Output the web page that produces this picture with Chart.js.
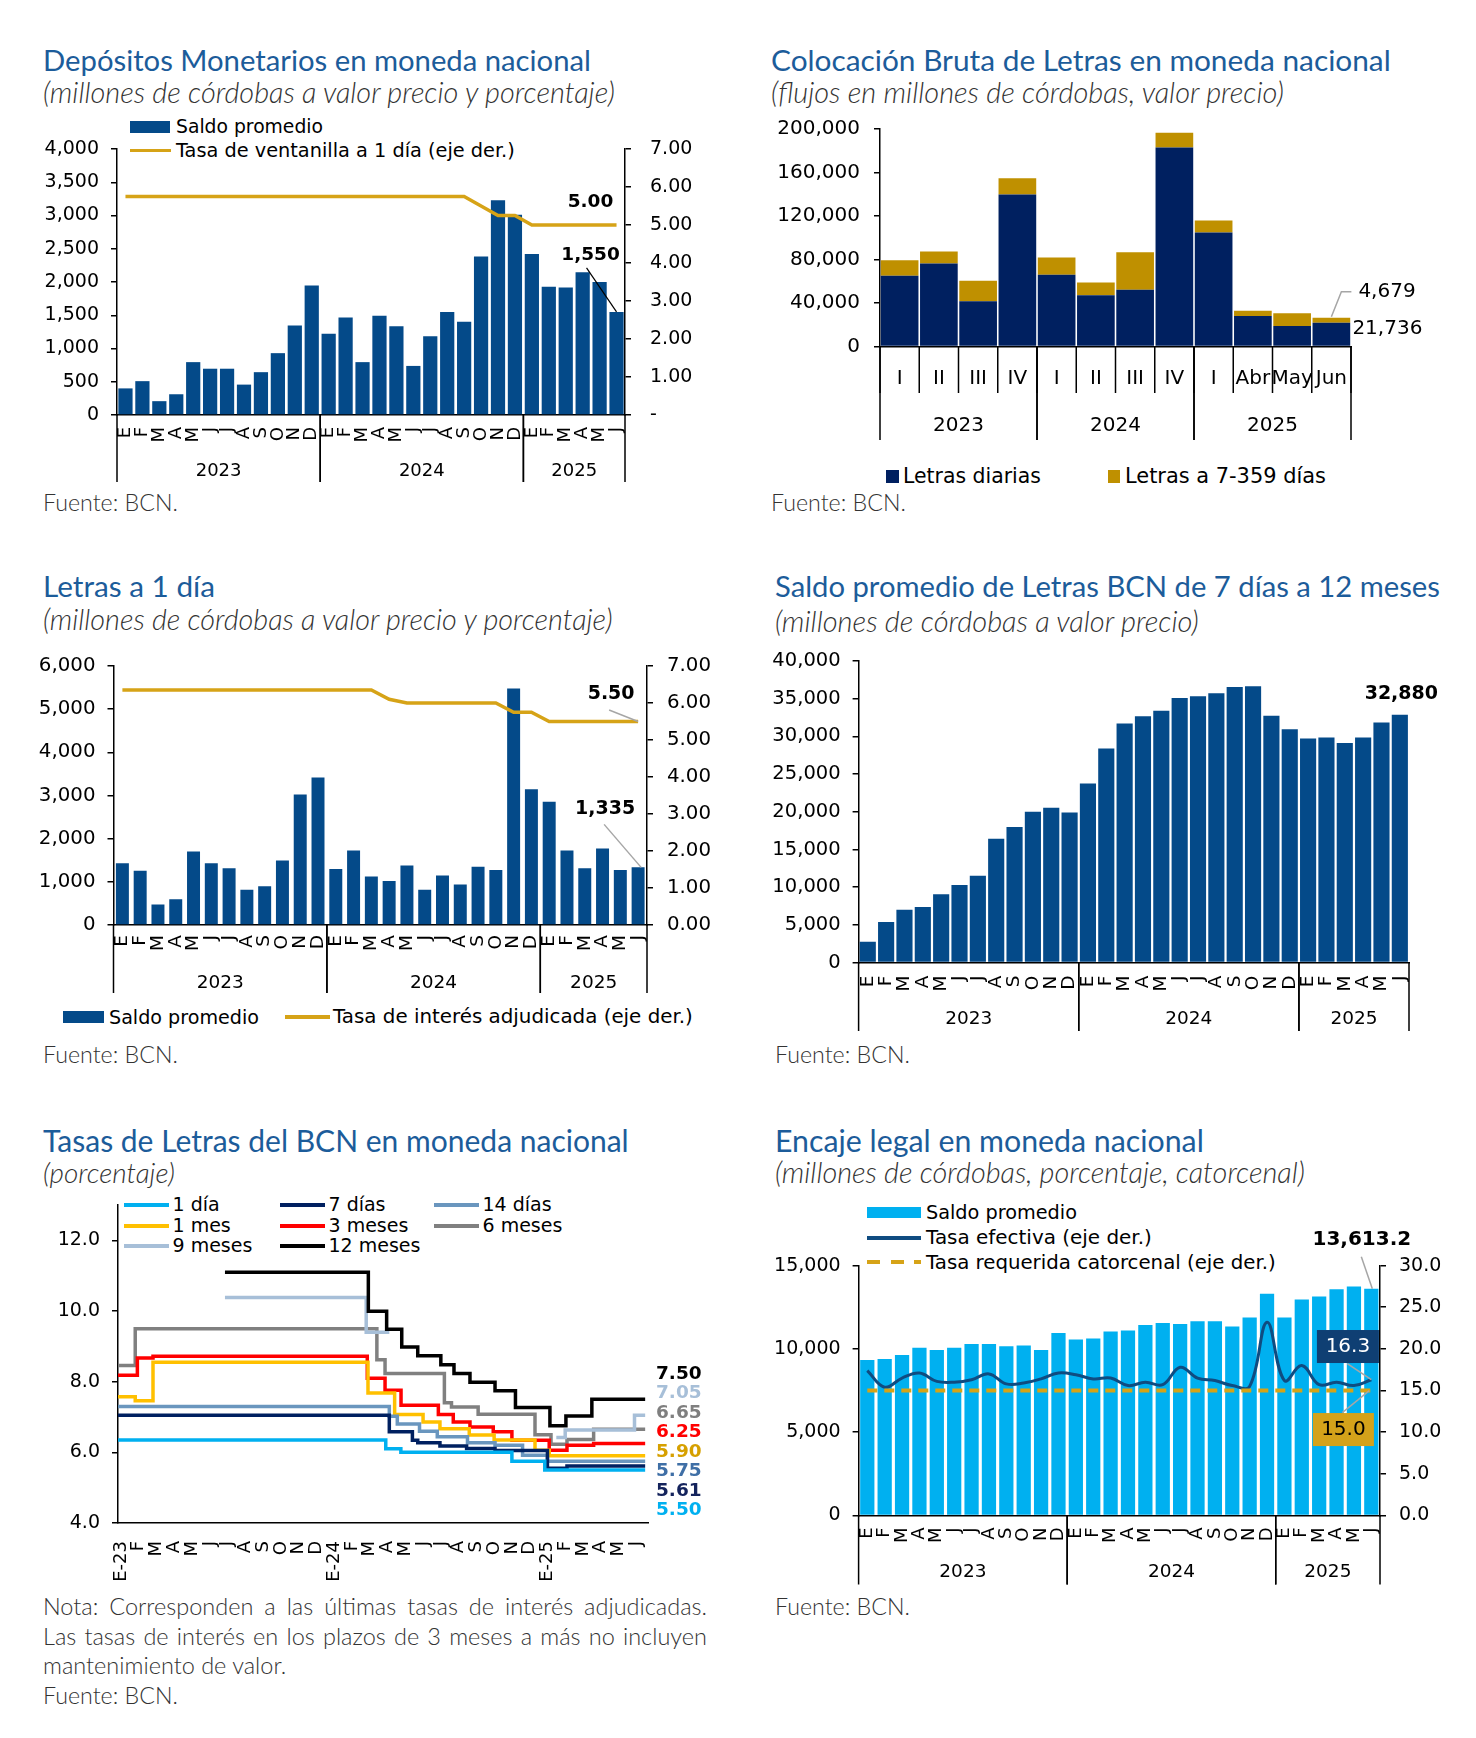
<!DOCTYPE html>
<html lang="es">
<head>
<meta charset="utf-8">
<title>Indicadores monetarios BCN</title>
<script src="https://cdn.jsdelivr.net/npm/chart.js@4.4.1/dist/chart.umd.min.js"></script>
<style>
  html, body { margin: 0; padding: 0; background: #fff; }
  #page { position: relative; width: 1476px; height: 1738px; overflow: hidden; }
  .t { position: absolute; white-space: nowrap; line-height: 1; }
  .titulo { font-family: Lato, sans-serif; color: #1c5c9a; }
  .sub { font-family: Lato, sans-serif; font-style: italic; font-weight: 300; color: #333; }
  .fuente { font-family: Lato, sans-serif; font-weight: 300; color: #333; }
  .leg { font-family: 'DejaVu Sans', sans-serif; color: #000; }
  .sw { position: absolute; }
  canvas { position: absolute; }
</style>
</head>
<body>
<div id="page"></div>
<script>
// ---------- datos ----------
const meses = ['E','F','M','A','M','J','J','A','S','O','N','D',
               'E','F','M','A','M','J','J','A','S','O','N','D',
               'E','F','M','A','M','J'];
const anios = ['2023', '2024', '2025'];
const mesesPorAnio = [12, 12, 6];

// Depositos monetarios
const depSaldo = [400, 509, 208, 312, 795, 696, 696, 457, 644, 930, 1345, 1948,
                  1221, 1465, 795, 1491, 1335, 738, 1184, 1548, 1403, 2384, 3231, 3013,
                  2421, 1927, 1917, 2145, 2000, 1550];
const depTasa = [5.75, 5.75, 5.75, 5.75, 5.75, 5.75, 5.75, 5.75, 5.75, 5.75, 5.75, 5.75,
                 5.75, 5.75, 5.75, 5.75, 5.75, 5.75, 5.75, 5.75, 5.75, 5.50, 5.25, 5.25,
                 5.00, 5.00, 5.00, 5.00, 5.00, 5.00];

// Colocacion bruta de letras
const colocPeriodos = ['I', 'II', 'III', 'IV', 'I', 'II', 'III', 'IV', 'I', 'Abr', 'May', 'Jun'];
const colocPorAnio = [4, 4, 4];
const letrasDiarias = [65000, 76400, 41700, 139800, 65900, 47100, 52200, 183100, 104800, 28000, 18800, 21736];
const letras7a359 = [14300, 10900, 18800, 15000, 15900, 11800, 34400, 13400, 11100, 4800, 11800, 4679];

// Letras a 1 dia
const l1Saldo = [1428, 1259, 473, 594, 1700, 1428, 1315, 818, 898, 1492, 3024, 3417,
                 1299, 1725, 1123, 1019, 1380, 818, 1147, 938, 1348, 1275, 5478, 3144,
                 2855, 1725, 1315, 1773, 1275, 1335];
const l1Tasa = [6.35, 6.35, 6.35, 6.35, 6.35, 6.35, 6.35, 6.35, 6.35, 6.35, 6.35, 6.35,
                6.35, 6.35, 6.35, 6.10, 6.00, 6.00, 6.00, 6.00, 6.00, 6.00, 5.75, 5.75,
                5.50, 5.50, 5.50, 5.50, 5.50, 5.50];

// Saldo de letras de 7 dias a 12 meses
const letrasSaldo = [2750, 5370, 7020, 7390, 9080, 10280, 11510, 16420, 17980, 20000, 20550, 19910,
                     23760, 28390, 31700, 32660, 33390, 35090, 35320, 35730, 36560, 36650, 32750, 30960,
                     29730, 29860, 29130, 29860, 31840, 32880];

// Tasas de letras (x = meses desde enero 2023)
const mesesTasas = ['E-23','F','M','A','M','J','J','A','S','O','N','D',
                    'E-24','F','M','A','M','J','J','A','S','O','N','D',
                    'E-25','F','M','A','M','J'];
const tasa1dia = [[-0.17, 6.35], [14.9, 6.10], [15.75, 6.00], [22.0, 5.75], [23.85, 5.50], [29.5, 5.50]];
const tasa7dias = [[-0.17, 7.05], [15.1, 6.58], [16.4, 6.34], [16.7, 6.27], [17.95, 6.18], [19.45, 6.11],
                   [21.05, 6.05], [24.0, 5.55], [25.1, 5.61], [29.5, 5.61]];
const tasa14dias = [[-0.17, 7.30], [15.1, 7.02], [15.55, 6.80], [16.8, 6.60], [17.8, 6.44], [19.5, 6.27],
                    [21.05, 6.20], [22.6, 5.92], [24.0, 5.75], [29.5, 5.75]];
const tasa1mes = [[-0.17, 7.57], [0.8, 7.46], [1.8, 8.55], [13.9, 7.68], [15.4, 7.07], [17.0, 6.86],
                  [17.95, 6.67], [19.6, 6.49], [21.0, 6.35], [23.3, 6.06], [24.1, 5.90], [29.5, 5.90]];
const tasa3meses = [[-0.17, 8.18], [0.92, 8.67], [1.8, 8.72], [13.86, 8.10], [14.86, 7.76], [15.76, 7.33],
                    [17.86, 7.07], [18.7, 6.86], [19.64, 6.72], [20.95, 6.58], [22.0, 6.34], [24.1, 6.06],
                    [25.1, 6.20], [26.6, 6.25], [29.5, 6.25]];
const tasa6meses = [[-0.17, 8.46], [0.8, 9.50], [14.4, 8.62], [14.86, 8.23], [18.2, 7.40], [18.6, 7.28],
                    [20.1, 7.08], [23.3, 6.50], [24.2, 6.23], [25.1, 6.36], [26.6, 6.65], [29.5, 6.65]];
const tasa9meses = [[5.85, 10.38], [13.8, 9.40], [15.1, 9.40], [15.2, null], [24.5, 6.42], [25.0, 6.63],
                    [28.9, 7.05], [29.5, 7.05]];
const tasa12meses = [[5.85, 11.10], [13.92, 9.99], [14.95, 9.48], [15.8, 8.98], [16.7, 8.73], [18.0, 8.48],
                     [18.74, 8.23], [19.64, 7.98], [21.05, 7.74], [22.2, 7.27], [24.14, 6.75], [25.04, 7.03],
                     [26.5, 7.50], [29.5, 7.50]];

// Encaje legal
const encajeSaldo = [9330, 9400, 9630, 10070, 9940, 10070, 10290, 10290, 10160, 10210, 9940, 10950,
                     10560, 10630, 11050, 11100, 11440, 11560, 11490, 11660, 11660, 11340, 11880, 13310,
                     11880, 12960, 13140, 13580, 13750, 13613.2];
const tasaEfectiva = [17.4, 15.4, 16.5, 17.1, 16.1, 16.0, 16.3, 17.0, 15.8, 15.9, 16.4, 17.1,
                      16.9, 16.4, 16.5, 15.6, 16.0, 15.7, 17.8, 16.5, 16.2, 15.6, 15.5, 23.2,
                      16.2, 18.0, 15.7, 16.0, 15.6, 16.3];
const tasaRequerida = [15.0, 15.0, 15.0, 15.0, 15.0, 15.0, 15.0, 15.0, 15.0, 15.0, 15.0, 15.0,
                       15.0, 15.0, 15.0, 15.0, 15.0, 15.0, 15.0, 15.0, 15.0, 15.0, 15.0, 15.0,
                       15.0, 15.0, 15.0, 15.0, 15.0, 15.0];

// ---------- estilos ----------
const AZUL = '#044a89';
const ORO = '#d6a317';
const NAVY = '#002060';
const ORO2 = '#bf9000';
const CIAN = '#00b0f0';
const GRIS = '#a6a6a6';
const FAM = "'DejaVu Sans', sans-serif";

Chart.defaults.font.family = FAM;
Chart.defaults.color = '#000';
Chart.defaults.animation = false;
Chart.defaults.responsive = false;
Chart.defaults.plugins.legend.display = false;
Chart.defaults.plugins.tooltip.enabled = false;

const page = document.getElementById('page');
const miles = v => v.toLocaleString('en-US');

// ---------- texto html ----------
function texto(str, cls, x, base, size, w) {
  const d = document.createElement('div');
  d.className = 't ' + cls;
  d.textContent = str;
  d.style.left = x + 'px';
  d.style.fontSize = size + 'px';
  page.appendChild(d);
  if (w) {
    size = size * w / d.getBoundingClientRect().width;
    d.style.fontSize = size + 'px';
  }
  d.style.top = (base - 0.887 * size) + 'px';
  return d;
}

function etiqueta(str, x, cy, size, w) {
  const d = document.createElement('div');
  d.className = 't leg';
  d.textContent = str;
  d.style.left = x + 'px';
  d.style.fontSize = size + 'px';
  page.appendChild(d);
  if (w) {
    size = size * w / d.getBoundingClientRect().width;
    d.style.fontSize = size + 'px';
  }
  d.style.top = (cy - 0.48 * size) + 'px';
}

function caja(x, cy, w, h, fondo) {
  const d = document.createElement('div');
  d.className = 'sw';
  d.style.left = x + 'px';
  d.style.top = (cy - h / 2) + 'px';
  d.style.width = w + 'px';
  d.style.height = h + 'px';
  d.style.background = fondo;
  page.appendChild(d);
}

function lienzo(x, y, w, h) {
  const c = document.createElement('canvas');
  c.width = w; c.height = h;
  c.style.left = x + 'px'; c.style.top = y + 'px';
  c.style.width = w + 'px'; c.style.height = h + 'px';
  page.appendChild(c);
  return c;
}

// ---------- ejes ----------
function ejeY(o) {
  return {
    type: 'linear',
    position: o.pos || 'left',
    min: o.min, max: o.max,
    afterFit: s => { s.width = o.width; },
    afterBuildTicks: o.valores ? (s => { s.ticks = o.valores.map(v => ({ value: v })); }) : undefined,
    border: { display: true, color: '#000', width: 1.5 },
    grid: { display: true, drawOnChartArea: false, drawTicks: true, tickLength: 6, color: '#000', lineWidth: 1.5 },
    ticks: { stepSize: o.step, padding: o.pad, font: { size: o.size }, callback: o.fmt, color: '#000' }
  };
}

function ejeX(o) {
  return {
    afterFit: s => { s.height = o.height; },
    border: { display: true, color: '#000', width: 1.5 },
    grid: { display: false, drawTicks: false },
    ticks: { autoSkip: false, maxRotation: o.rot, minRotation: o.rot, padding: o.pad, font: { size: o.size }, color: '#000' }
  };
}

// lineas y textos de los grupos (anios) bajo el eje x
function gruposPlugin(cfg) {
  return {
    id: 'grupos',
    afterDraw(chart) {
      const x = chart.scales.x, ctx = chart.ctx, base = chart.chartArea.bottom;
      const n = chart.data.labels.length;
      ctx.save();
      ctx.strokeStyle = '#000';
      ctx.lineWidth = 1.5;
      ctx.fillStyle = '#000';
      ctx.font = cfg.size + 'px ' + FAM;
      ctx.textAlign = 'center';
      ctx.textBaseline = 'middle';
      const vertical = (px, h) => {
        ctx.beginPath(); ctx.moveTo(px, base); ctx.lineTo(px, base + h); ctx.stroke();
      };
      if (cfg.menor) {
        for (let i = 0; i <= n; i++) vertical(x.getPixelForValue(i - 0.5), cfg.menor);
      }
      let i0 = 0;
      cfg.grupos.forEach(([lab, k]) => {
        const a = x.getPixelForValue(i0 - 0.5), b = x.getPixelForValue(i0 + k - 0.5);
        vertical(a, cfg.prof);
        vertical(b, cfg.prof);
        ctx.fillText(lab, (a + b) / 2, base + cfg.yTexto);
        i0 += k;
      });
      ctx.restore();
    }
  };
}

function rotulo(ctx, str, x, y, font, color, align) {
  ctx.font = font;
  ctx.fillStyle = color;
  ctx.textAlign = align || 'center';
  ctx.textBaseline = 'middle';
  ctx.fillText(str, x, y);
}

function trazo(ctx, pts, color, w) {
  ctx.beginPath();
  ctx.moveTo(pts[0][0], pts[0][1]);
  for (let i = 1; i < pts.length; i++) ctx.lineTo(pts[i][0], pts[i][1]);
  ctx.strokeStyle = color;
  ctx.lineWidth = w;
  ctx.stroke();
}

const gruposMeses = anios.map((a, i) => [a, mesesPorAnio[i]]);

// ================= 1. Depositos monetarios =================
texto('Depósitos Monetarios en moneda nacional', 'titulo', 43, 71, 30, 548);
texto('(millones de córdobas a valor precio y porcentaje)', 'sub', 43, 104, 23, 572);
texto('Fuente: BCN.', 'fuente', 43, 511.7, 22, 135);
caja(130, 127, 40, 12, AZUL);
etiqueta('Saldo promedio', 176, 127, 18, 147);
caja(130, 150.5, 41, 3.5, ORO);
etiqueta('Tasa de ventanilla a 1 día (eje der.)', 176, 150.5, 18, 339);

new Chart(lienzo(0, 110, 738, 400), {
  type: 'bar',
  data: {
    labels: meses,
    datasets: [
      { type: 'bar', data: depSaldo, backgroundColor: AZUL, barPercentage: 0.84, categoryPercentage: 1, yAxisID: 'y', order: 1 },
      { type: 'line', data: depTasa, borderColor: ORO, borderWidth: 3.5, pointRadius: 0, yAxisID: 'y2', order: 0 }
    ]
  },
  options: {
    layout: { padding: { top: 39, left: 0, right: 0, bottom: 0 } },
    scales: {
      x: ejeX({ height: 95, pad: 12, size: 18, rot: 90 }),
      y: ejeY({ width: 117, min: 0, max: 4000, step: 500, pad: 12, size: 19, fmt: miles }),
      y2: ejeY({ pos: 'right', width: 113, min: 0, max: 7, step: 1, pad: 19, size: 19, fmt: v => v === 0 ? '-' : v.toFixed(2) })
    }
  },
  plugins: [
    gruposPlugin({ grupos: gruposMeses, yTexto: 56, prof: 67, size: 18 }),
    {
      id: 'rotulos1',
      afterDatasetsDraw(chart) {
        const ctx = chart.ctx;
        const barra = chart.getDatasetMeta(0).data.at(-1);
        const punto = chart.getDatasetMeta(1).data.at(-1);
        ctx.save();
        trazo(ctx, [[barra.x - 30, barra.y - 44], [barra.x, barra.y]], '#000', 1.2);
        rotulo(ctx, miles(depSaldo.at(-1)), barra.x - 26, barra.y - 56.5, 'bold 18.5px ' + FAM, '#000');
        rotulo(ctx, depTasa.at(-1).toFixed(2), punto.x - 26, punto.y - 22.5, 'bold 18.5px ' + FAM, '#000');
        ctx.restore();
      }
    }
  ]
});

// ================= 2. Colocacion bruta =================
texto('Colocación Bruta de Letras en moneda nacional', 'titulo', 771, 71, 30, 620);
texto('(flujos en millones de córdobas, valor precio)', 'sub', 771, 104, 23, 513);
texto('Fuente: BCN.', 'fuente', 771, 511.7, 22, 135);
caja(886, 476, 13, 13, NAVY);
etiqueta('Letras diarias', 903, 476, 19, 138);
caja(1108, 476, 12, 13, ORO2);
etiqueta('Letras a 7-359 días', 1125, 476, 19, 201);

new Chart(lienzo(738, 90, 738, 420), {
  type: 'bar',
  data: {
    labels: colocPeriodos,
    datasets: [
      { data: letrasDiarias, backgroundColor: NAVY, barPercentage: 0.96, categoryPercentage: 1, stack: 's' },
      { data: letras7a359, backgroundColor: ORO2, barPercentage: 0.96, categoryPercentage: 1, stack: 's' }
    ]
  },
  options: {
    layout: { padding: { top: 39, left: 0, right: 125, bottom: 0 } },
    scales: {
      x: Object.assign(ejeX({ height: 163.5, pad: 20.5, size: 20, rot: 0 }), { stacked: true }),
      y: Object.assign(ejeY({ width: 142, min: 0, max: 200000, step: 40000, pad: 14, size: 20, fmt: miles }), { stacked: true })
    }
  },
  plugins: [
    gruposPlugin({ grupos: anios.map((a, i) => [a, colocPorAnio[i]]), yTexto: 79.5, prof: 93.5, menor: 46.5, size: 20 }),
    {
      id: 'rotulos2',
      afterDatasetsDraw(chart) {
        const ctx = chart.ctx;
        const azul = chart.getDatasetMeta(0).data.at(-1);
        const oro = chart.getDatasetMeta(1).data.at(-1);
        ctx.save();
        trazo(ctx, [[azul.x, oro.y - 1], [azul.x + 10, oro.y - 26], [azul.x + 20, oro.y - 26]], GRIS, 1.5);
        rotulo(ctx, miles(letras7a359.at(-1)), azul.x + 27, oro.y - 26, '20px ' + FAM, '#000', 'left');
        rotulo(ctx, miles(letrasDiarias.at(-1)), azul.x + 21, azul.y + 6, '20px ' + FAM, '#000', 'left');
        ctx.restore();
      }
    }
  ]
});

// ================= 3. Letras a 1 dia =================
texto('Letras a 1 día', 'titulo', 43, 597, 30, 172);
texto('(millones de córdobas a valor precio y porcentaje)', 'sub', 43, 631, 23, 570);
texto('Fuente: BCN.', 'fuente', 43, 1064, 22, 135);
caja(63, 1017, 41, 12, AZUL);
etiqueta('Saldo promedio', 109, 1017, 18.5, 150);
caja(285, 1017, 45, 4, ORO);
etiqueta('Tasa de interés adjudicada (eje der.)', 333, 1017, 18.5, 360);

new Chart(lienzo(0, 630, 738, 380), {
  type: 'bar',
  data: {
    labels: meses,
    datasets: [
      { type: 'bar', data: l1Saldo, backgroundColor: AZUL, barPercentage: 0.73, categoryPercentage: 1, yAxisID: 'y', order: 1 },
      { type: 'line', data: l1Tasa, borderColor: ORO, borderWidth: 3.5, pointRadius: 0, yAxisID: 'y2', order: 0 }
    ]
  },
  options: {
    layout: { padding: { top: 36, left: 0, right: 0, bottom: 0 } },
    scales: {
      x: ejeX({ height: 85, pad: 10, size: 18.5, rot: 90 }),
      y: ejeY({ width: 113.5, min: 0, max: 6000, step: 1000, pad: 12, size: 19.8, fmt: miles }),
      y2: ejeY({ pos: 'right', width: 91, min: 0, max: 7, step: 1, pad: 14, size: 19.8, fmt: v => v.toFixed(2) })
    }
  },
  plugins: [
    gruposPlugin({ grupos: gruposMeses, yTexto: 58, prof: 68, size: 18.5 }),
    {
      id: 'rotulos3',
      afterDatasetsDraw(chart) {
        const ctx = chart.ctx;
        const barra = chart.getDatasetMeta(0).data.at(-1);
        const punto = chart.getDatasetMeta(1).data.at(-1);
        ctx.save();
        trazo(ctx, [[punto.x - 29, punto.y - 11.5], [punto.x, punto.y]], GRIS, 1.5);
        rotulo(ctx, l1Tasa.at(-1).toFixed(2), punto.x - 27, punto.y - 27.5, 'bold 19px ' + FAM, '#000');
        trazo(ctx, [[barra.x - 34, barra.y - 43], [barra.x + 3, barra.y]], GRIS, 1.5);
        rotulo(ctx, miles(l1Saldo.at(-1)), barra.x - 33, barra.y - 58.4, 'bold 19px ' + FAM, '#000');
        ctx.restore();
      }
    }
  ]
});

// ================= 4. Saldo de letras 7 dias a 12 meses =================
texto('Saldo promedio de Letras BCN de 7 días a 12 meses', 'titulo', 775, 597, 30, 665);
texto('(millones de córdobas a valor precio)', 'sub', 775, 632, 23, 424);
texto('Fuente: BCN.', 'fuente', 775, 1064, 22, 135);

new Chart(lienzo(738, 620, 738, 420), {
  type: 'bar',
  data: {
    labels: meses,
    datasets: [
      { data: letrasSaldo, backgroundColor: AZUL, barPercentage: 0.88, categoryPercentage: 1 }
    ]
  },
  options: {
    layout: { padding: { top: 41, left: 0, right: 67, bottom: 0 } },
    scales: {
      x: ejeX({ height: 77.4, pad: 13, size: 18.5, rot: 90 }),
      y: ejeY({ width: 120.6, min: 0, max: 40000, step: 5000, pad: 12, size: 19.5, fmt: miles })
    }
  },
  plugins: [
    gruposPlugin({ grupos: gruposMeses, yTexto: 56.4, prof: 68.4, size: 18.5 }),
    {
      id: 'rotulos4',
      afterDatasetsDraw(chart) {
        const barra = chart.getDatasetMeta(0).data.at(-1);
        chart.ctx.save();
        rotulo(chart.ctx, miles(letrasSaldo.at(-1)), barra.x + 1.5, barra.y - 21, 'bold 19px ' + FAM, '#000');
        chart.ctx.restore();
      }
    }
  ]
});

// ================= 5. Tasas de letras =================
texto('Tasas de Letras del BCN en moneda nacional', 'titulo', 43, 1152, 30, 586);
texto('(porcentaje)', 'sub', 43, 1184, 23, 132);

const series = [
  { nombre: '1 día', datos: tasa1dia, color: '#00b0f0', rot: '#00b0f0', orden: 1, col: 0, fila: 0 },
  { nombre: '7 días', datos: tasa7dias, color: '#002060', rot: '#14235c', orden: 2, col: 1, fila: 0 },
  { nombre: '14 días', datos: tasa14dias, color: '#6a96be', rot: '#3f6fa6', orden: 3, col: 2, fila: 0 },
  { nombre: '1 mes', datos: tasa1mes, color: '#ffc000', rot: '#d6a000', orden: 4, col: 0, fila: 1 },
  { nombre: '3 meses', datos: tasa3meses, color: '#ff0000', rot: '#ff0000', orden: 5, col: 1, fila: 1 },
  { nombre: '6 meses', datos: tasa6meses, color: '#808080', rot: '#7f7f7f', orden: 7, col: 2, fila: 1 },
  { nombre: '9 meses', datos: tasa9meses, color: '#a7bfd8', rot: '#a7bfd8', orden: 6, col: 0, fila: 2 },
  { nombre: '12 meses', datos: tasa12meses, color: '#000000', rot: '#000000', orden: 0, col: 1, fila: 2 }
];
const colSw = [124, 280, 434];
const filaY = [1204.5, 1225.5, 1245.5];
series.forEach(s => {
  caja(colSw[s.col], filaY[s.fila], 45, 4, s.color);
  etiqueta(s.nombre, colSw[s.col] + 48.5, filaY[s.fila], 19);
});
const ordenRotulos = ['12 meses', '9 meses', '6 meses', '3 meses', '1 mes', '14 días', '7 días', '1 día'];

new Chart(lienzo(0, 1170, 738, 420), {
  type: 'line',
  data: {
    datasets: series.map(s => ({
      data: s.datos.map(([x, y]) => ({ x, y })),
      borderColor: s.color, borderWidth: 3.5, stepped: 'before', pointRadius: 0, order: s.orden
    }))
  },
  options: {
    layout: { padding: { top: 35, left: 0, right: 90, bottom: 0 } },
    scales: {
      x: Object.assign(ejeX({ height: 67, pad: 18, size: 18, rot: 90 }), {
        type: 'linear', min: -0.17, max: 29.66,
        afterBuildTicks: s => { s.ticks = mesesTasas.map((l, i) => ({ value: i })); }
      }),
      y: ejeY({ width: 118, min: 4, max: 13, valores: [4, 6, 8, 10, 12], pad: 12, size: 19, fmt: v => v.toFixed(1) })
    }
  },
  plugins: [
    {
      id: 'ticksMes',
      beforeInit(chart) {
        chart.options.scales.x.ticks.callback = v => mesesTasas[v];
      }
    },
    {
      id: 'rotulos5',
      afterDatasetsDraw(chart) {
        const ctx = chart.ctx, area = chart.chartArea;
        ctx.save();
        ordenRotulos.forEach((nom, i) => {
          const s = series.find(z => z.nombre === nom);
          const ultimo = s.datos.at(-1)[1];
          rotulo(ctx, ultimo.toFixed(2), area.right + 8, area.top + 169 + i * 19.5, 'bold 18.5px ' + FAM, s.rot, 'left');
        });
        ctx.restore();
      }
    }
  ]
});

(function nota() {
  const lineas = ['Nota: Corresponden a las últimas tasas de interés adjudicadas.',
                  'Las tasas de interés en los plazos de 3 meses a más no incluyen'];
  const base = [1616, 1646];
  const size = 23.5;
  lineas.forEach((l, i) => {
    const d = texto(l, 'fuente', 43, base[i], size);
    d.style.width = '664px';
    d.style.textAlign = 'justify';
    d.style.textAlignLast = 'justify';
  });
  texto('mantenimiento de valor.', 'fuente', 43, 1675, size);
  texto('Fuente: BCN.', 'fuente', 43, 1704.5, 22, 135);
})();

// ================= 6. Encaje legal =================
texto('Encaje legal en moneda nacional', 'titulo', 775, 1152, 30, 429);
texto('(millones de córdobas, porcentaje, catorcenal)', 'sub', 775, 1184, 23, 530);
texto('Fuente: BCN.', 'fuente', 775, 1616, 22, 135);
caja(867, 1212.5, 54, 11.5, CIAN);
etiqueta('Saldo promedio', 926, 1212.5, 18.5, 151);
caja(867, 1238, 54, 3.5, '#0f4c81');
etiqueta('Tasa efectiva (eje der.)', 926, 1238, 18.5, 226);
caja(867, 1262, 54, 4, 'repeating-linear-gradient(to right, ' + ORO + ' 0 13px, transparent 13px 23.6px)');
etiqueta('Tasa requerida catorcenal (eje der.)', 926, 1262, 18.5, 350);

new Chart(lienzo(738, 1190, 738, 410), {
  type: 'bar',
  data: {
    labels: meses,
    datasets: [
      { type: 'bar', data: encajeSaldo, backgroundColor: CIAN, barPercentage: 0.82, categoryPercentage: 1, yAxisID: 'y', order: 2 },
      { type: 'line', data: tasaEfectiva, borderColor: '#0f4c81', borderWidth: 3, tension: 0.4, pointRadius: 0, yAxisID: 'y2', order: 1 },
      { type: 'line', data: tasaRequerida, borderColor: ORO, borderWidth: 4, borderDash: [10, 7], pointRadius: 0, yAxisID: 'y2', order: 0 }
    ]
  },
  options: {
    layout: { padding: { top: 75.6, left: 0, right: 0, bottom: 0 } },
    scales: {
      x: ejeX({ height: 84.5, pad: 12, size: 18, rot: 90 }),
      y: ejeY({ width: 120.6, min: 0, max: 15000, step: 5000, pad: 12, size: 19, fmt: miles }),
      y2: ejeY({ pos: 'right', width: 96, min: 0, max: 30, step: 5, pad: 13, size: 19, fmt: v => v.toFixed(1) })
    }
  },
  plugins: [
    gruposPlugin({ grupos: gruposMeses, yTexto: 57, prof: 69, size: 18.5 }),
    {
      id: 'rotulos6',
      afterDatasetsDraw(chart) {
        const ctx = chart.ctx;
        const barra = chart.getDatasetMeta(0).data.at(-1);
        const efec = chart.getDatasetMeta(1).data.at(-1);
        const req = chart.getDatasetMeta(2).data.at(-1);
        ctx.save();
        trazo(ctx, [[barra.x - 10, barra.y - 32], [barra.x + 1, barra.y]], GRIS, 1.5);
        rotulo(ctx, encajeSaldo.at(-1).toLocaleString('en-US', { minimumFractionDigits: 1 }),
               barra.x - 9.5, barra.y - 48.7, 'bold 20px ' + FAM, '#000');
        trazo(ctx, [[efec.x - 24, efec.y - 16], [efec.x, efec.y]], GRIS, 1.5);
        ctx.fillStyle = '#0f3f73';
        ctx.fillRect(efec.x - 54.4, efec.y - 49.7, 62, 33);
        rotulo(ctx, tasaEfectiva.at(-1).toFixed(1), efec.x - 23.4, efec.y - 33, '20px ' + FAM, '#fff');
        trazo(ctx, [[req.x - 29, req.y + 22], [req.x - 2, req.y]], GRIS, 1.5);
        ctx.fillStyle = '#d4a21a';
        ctx.fillRect(req.x - 58.4, req.y + 22.5, 61, 33);
        rotulo(ctx, tasaRequerida.at(-1).toFixed(1), req.x - 27.9, req.y + 39.5, '20px ' + FAM, '#000');
        ctx.restore();
      }
    }
  ]
});
</script>
</body>
</html>
